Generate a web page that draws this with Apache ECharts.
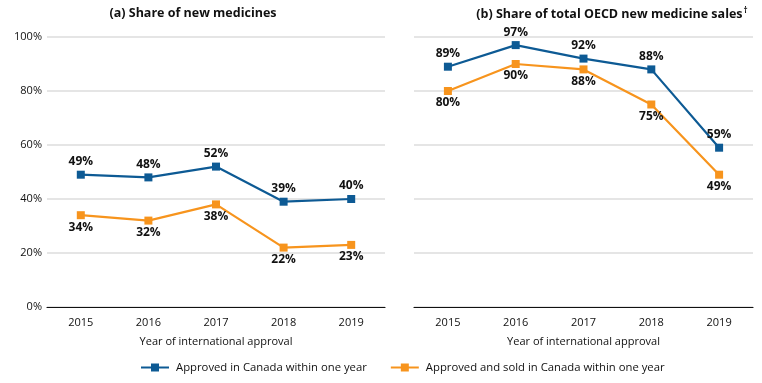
<!DOCTYPE html>
<html>
<head>
<meta charset="utf-8">
<script src="https://cdn.jsdelivr.net/npm/echarts@6/dist/echarts.min.js"></script>
<style>html,body{margin:0;padding:0;background:#fff}#c{width:762px;height:383px}</style>
</head>
<body>
<div id="c"></div>
<script>
const years = ['2015', '2016', '2017', '2018', '2019'];
const yTicks = [0, 20, 40, 60, 80, 100];
const newApproved = [49, 48, 52, 39, 40];
const newSold = [34, 32, 38, 22, 23];
const salesApproved = [89, 97, 92, 88, 59];
const salesSold = [80, 90, 88, 75, 49];
const seriesNames = ['Approved in Canada within one year', 'Approved and sold in Canada within one year'];
const titles = ['(a) Share of new medicines', '(b) Share of total OECD new medicine sales{s|\u2020}'];
const xName = 'Year of international approval';

const BLUE = '#0d5a94', ORANGE = '#f7941d';
const FONT = 'Open Sans';
const chart = echarts.init(document.getElementById('c'));

function xAxis(idx) {
  return {
    type: 'category', gridIndex: idx, data: years,
    name: xName, nameLocation: 'middle', nameGap: 29,
    nameTextStyle: { fontFamily: FONT, fontSize: 11, color: '#111' },
    axisLine: { lineStyle: { color: '#111', width: 1.2 } },
    axisTick: { inside: true, length: 6, lineStyle: { color: '#111', width: 1.2 } },
    axisLabel: { fontFamily: FONT, fontSize: 11, color: '#111', margin: 10 }
  };
}
function yAxis(idx, showLabels) {
  return {
    type: 'value', gridIndex: idx, min: 0, max: 100, interval: 20,
    axisLine: { show: false }, axisTick: { show: false },
    axisLabel: { show: showLabels, fontFamily: FONT, fontSize: 11, color: '#111', margin: 5,
      formatter: v => yTicks.includes(v) ? v + '%' : '' },
    splitLine: { show: true, lineStyle: { color: '#dcdcdc', width: 1.5 } }
  };
}
function line(name, data, idx, color, pos) {
  return {
    name, type: 'line', xAxisIndex: idx, yAxisIndex: idx, data,
    symbol: 'rect', symbolSize: 8,
    lineStyle: { color, width: 2.2 }, itemStyle: { color },
    label: { show: true, position: pos, distance: pos === 'top' ? 3 : 2, formatter: '{c}%',
      fontFamily: FONT, fontWeight: 'bold', fontSize: 12, color: '#111' },
    emphasis: { disabled: true }, animation: false
  };
}
const titleStyle = { fontFamily: FONT, fontWeight: 'bold', fontSize: 12.5, color: '#111',
  rich: { s: { fontFamily: FONT, fontWeight: 'bold', fontSize: 8, color: '#111', padding: [0, 0, 6, 1] } } };

chart.setOption({
  animation: false,
  title: [
    { text: titles[0], left: 188, top: 2, textAlign: 'center', textStyle: titleStyle },
    { text: titles[1], left: 607, top: 2, textAlign: 'center', textStyle: titleStyle }
  ],
  legend: {
    bottom: 5, left: 135, itemGap: 23, itemWidth: 28, itemHeight: 10,
    textStyle: { fontFamily: FONT, fontSize: 11.3, color: '#111', padding: [0, 0, 0, 2] },
    data: seriesNames
  },
  grid: [
    { left: 47, right: 377, top: 37, bottom: 76 },
    { left: 414, right: 9, top: 37, bottom: 76 }
  ],
  xAxis: [xAxis(0), xAxis(1)],
  yAxis: [yAxis(0, true), yAxis(1, false)],
  series: [
    line(seriesNames[0], newApproved, 0, BLUE, 'top'),
    line(seriesNames[1], newSold, 0, ORANGE, 'bottom'),
    line(seriesNames[0], salesApproved, 1, BLUE, 'top'),
    line(seriesNames[1], salesSold, 1, ORANGE, 'bottom')
  ]
});
</script>
</body>
</html>
